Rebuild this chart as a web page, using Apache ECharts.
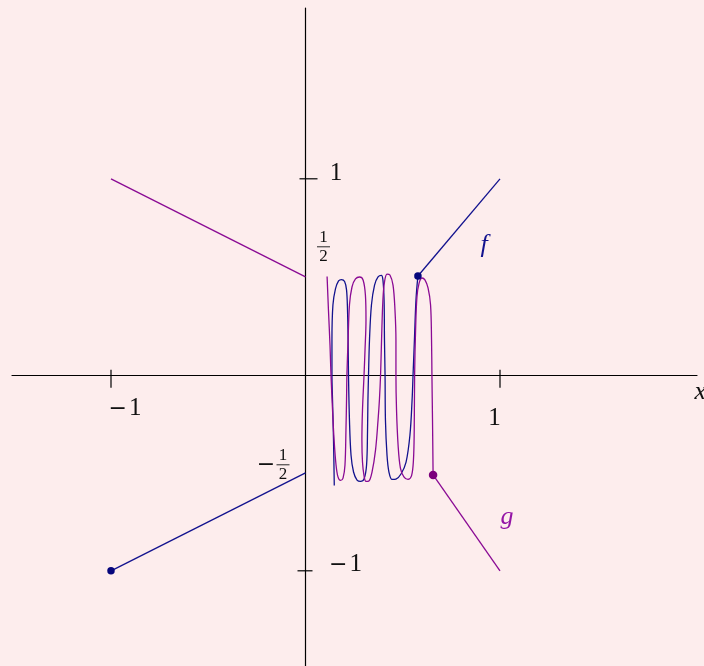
<!DOCTYPE html>
<html>
<head>
<meta charset="utf-8">
<script src="https://cdn.jsdelivr.net/npm/echarts@6/dist/echarts.min.js"></script>
<style>
  html, body { margin: 0; padding: 0; background: #fdeded; }
  #chart { width: 704px; height: 666px; }
</style>
</head>
<body>
<div id="chart"></div>
<script>
// Tick values and their labels
const xTicks = [-1, 1];
const xTickLabels = ['−1', '1'];
const yTicks = [1, -1];
const yTickLabels = ['1', '−1'];
const halfTicks = [0.5, -0.5];
const halfTickLabels = ['1/2', '−1/2'];

// f: straight piece left of the axis, the oscillating piece, and the tail to (1, 1)
const fLeft = [[-1, -1], [0, -0.5]];
const fWiggle = [
  [0.148, -0.565], [0.144, -0.333], [0.139, -0.129], [0.136, 0.0], [0.136, 0.178],
  [0.141, 0.356], [0.154, 0.438], [0.170, 0.479], [0.185, 0.486], [0.201, 0.476],
  [0.211, 0.433], [0.216, 0.331], [0.219, 0.178], [0.221, 0.0], [0.226, -0.231],
  [0.234, -0.409], [0.247, -0.496], [0.265, -0.537], [0.283, -0.544], [0.301, -0.532],
  [0.314, -0.460], [0.319, -0.282], [0.321, -0.129], [0.324, 0.0], [0.329, 0.178],
  [0.339, 0.356], [0.355, 0.458], [0.373, 0.499], [0.390, 0.507], [0.398, 0.484],
  [0.404, 0.382], [0.406, 0.178], [0.409, 0.0], [0.411, -0.231], [0.419, -0.409],
  [0.429, -0.496], [0.445, -0.534], [0.465, -0.532], [0.491, -0.506], [0.517, -0.445],
  [0.537, -0.307], [0.548, -0.129], [0.553, 0.0], [0.560, 0.178], [0.568, 0.382],
  [0.578, 0.504]
];
const fRight = [[0.578, 0.504], [1, 1]];
const fDots = [[-1, -1], [0.578, 0.504]];

// g: straight piece left of the axis, the oscillating piece, and the tail to (1, -1)
const gLeft = [[-1, 1], [0, 0.5]];
const gWiggle = [
  [0.111, 0.502], [0.118, 0.331], [0.126, 0.152], [0.131, 0.0], [0.139, -0.180],
  [0.147, -0.333], [0.157, -0.460], [0.167, -0.521], [0.180, -0.539], [0.193, -0.527],
  [0.203, -0.460], [0.208, -0.282], [0.211, -0.129], [0.213, 0.0], [0.219, 0.178],
  [0.226, 0.356], [0.239, 0.448], [0.257, 0.489], [0.278, 0.499], [0.296, 0.484],
  [0.308, 0.407], [0.311, 0.280], [0.306, 0.127], [0.301, 0.0], [0.293, -0.180],
  [0.290, -0.333], [0.293, -0.445], [0.301, -0.516], [0.311, -0.544], [0.326, -0.542],
  [0.342, -0.496], [0.360, -0.384], [0.373, -0.231], [0.380, -0.129], [0.386, 0.0],
  [0.391, 0.178], [0.398, 0.382], [0.406, 0.473], [0.419, 0.514], [0.434, 0.509],
  [0.450, 0.458], [0.460, 0.331], [0.465, 0.178], [0.465, 0.0], [0.468, -0.180],
  [0.476, -0.358], [0.488, -0.476], [0.506, -0.521], [0.527, -0.534], [0.545, -0.516],
  [0.555, -0.435], [0.559, -0.282], [0.561, 0.0], [0.566, 0.229], [0.573, 0.397],
  [0.584, 0.468], [0.599, 0.494], [0.614, 0.484], [0.630, 0.443], [0.643, 0.356],
  [0.648, 0.178], [0.650, 0.0], [0.653, -0.231], [0.656, -0.511]
];
const gRight = [[0.656, -0.511], [1, -1]];
const gDots = [[0.656, -0.511]];

// Visible window of the plane
const X_MIN = -1.50900, X_MAX = 2.01285;
const Y_MIN = -1.48571, Y_MAX = 1.87143;

const F_COLOR = '#12128e';
const G_COLOR = '#8a0a94';
const NUM_FONT = '25px "Liberation Serif", "DejaVu Serif", serif';
const MINUS_FONT = '22px "DejaVu Sans", sans-serif';
const FRAC_FONT = '17px "Liberation Serif", "DejaVu Serif", serif';
const ITALIC_FONT = 'italic 26px "Liberation Serif", "DejaVu Serif", serif';

const chart = echarts.init(document.getElementById('chart'), null, { renderer: 'canvas' });

function curve(name, data, color, smooth) {
  return {
    name, type: 'line', data, smooth: smooth || false, showSymbol: false,
    lineStyle: { color, width: 1.3 }, silent: true, z: 3
  };
}

function text(x, y, str, font, fill, align) {
  return {
    type: 'text', x, y,
    style: { text: str, font, fill, align: align || 'center', verticalAlign: 'middle' }
  };
}

// A number label; a leading minus is set as a wider glyph in front of the digits
function numberLabel(cx, cy, str) {
  if (str.charAt(0) !== '−') return text(cx, cy, str, NUM_FONT, '#111');
  return {
    type: 'group',
    children: [
      text(cx + 1, cy, str.slice(1), NUM_FONT, '#111', 'left'),
      text(cx - 1, cy, '−', MINUS_FONT, '#111', 'right')
    ]
  };
}

// Tick marks sit asymmetrically across the axes
const xTickSpan = [-5, 13];
const yTickSpan = { '1': [-6, 12], '-1': [-8, 7] };

// Label anchor offsets (pixels) from the point on the axis
const xLabelOffset = { '-1': [17, 34], '1': [-5.5, 44] };
const yLabelOffset = { '1': [30.5, -5.5], '-1': [43, -6] };
const halfLabelOffset = { '0.5': [18, -30], '-0.5': [-22.5, -8] };

const option = {
  backgroundColor: '#fdeded',
  animation: false,
  grid: { left: 12, right: 7, top: 8, bottom: 0, containLabel: false },
  xAxis: {
    type: 'value', min: X_MIN, max: X_MAX,
    axisLine: { onZero: true, lineStyle: { color: '#000', width: 1.2 } },
    axisTick: { show: false }, axisLabel: { show: false }, splitLine: { show: false }
  },
  yAxis: {
    type: 'value', min: Y_MIN, max: Y_MAX,
    axisLine: { onZero: true, lineStyle: { color: '#000', width: 1.2 } },
    axisTick: { show: false }, axisLabel: { show: false }, splitLine: { show: false }
  },
  series: [
    curve('fLeft', fLeft, F_COLOR),
    curve('fWiggle', fWiggle, F_COLOR, 0.35),
    curve('fRight', fRight, F_COLOR),
    curve('gLeft', gLeft, G_COLOR),
    curve('gWiggle', gWiggle, G_COLOR, 0.35),
    curve('gRight', gRight, G_COLOR),
    {
      name: 'fDots', type: 'scatter', data: fDots, symbolSize: 7.5,
      itemStyle: { color: '#06067c', opacity: 1 }, z: 5, silent: true
    },
    {
      name: 'gDots', type: 'scatter', data: gDots, symbolSize: 8.5,
      itemStyle: { color: '#7c007c', opacity: 1 }, z: 5, silent: true
    },
    {
      // tick marks on both axes
      name: 'ticks', type: 'custom', clip: false, silent: true, z: 4,
      data: xTicks.map(v => [v, 0, 0]).concat(yTicks.map(v => [0, v, 1])),
      renderItem(params, api) {
        const p = api.coord([api.value(0), api.value(1)]);
        const style = { stroke: '#000', lineWidth: 1.2 };
        if (api.value(2) === 0) {
          return { type: 'line', shape: { x1: p[0], y1: p[1] + xTickSpan[0], x2: p[0], y2: p[1] + xTickSpan[1] }, style };
        }
        const s = yTickSpan[String(api.value(1))];
        return { type: 'line', shape: { x1: p[0] + s[0], y1: p[1], x2: p[0] + s[1], y2: p[1] }, style };
      }
    },
    {
      // tick labels
      name: 'tickLabels', type: 'custom', clip: false, silent: true, z: 4,
      data: xTicks.map((v, i) => [v, 0, 0, i])
        .concat(yTicks.map((v, i) => [0, v, 1, i]))
        .concat(halfTicks.map((v, i) => [0, v, 2, i])),
      renderItem(params, api) {
        const kind = api.value(2), idx = api.value(3);
        const p = api.coord([api.value(0), api.value(1)]);
        if (kind === 0) {
          const o = xLabelOffset[String(api.value(0))];
          return numberLabel(p[0] + o[0], p[1] + o[1], xTickLabels[idx]);
        }
        if (kind === 1) {
          const o = yLabelOffset[String(api.value(1))];
          return numberLabel(p[0] + o[0], p[1] + o[1], yTickLabels[idx]);
        }
        const o = halfLabelOffset[String(api.value(1))];
        const cx = p[0] + o[0], cy = p[1] + o[1];
        const label = halfTickLabels[idx];
        const neg = label.charAt(0) === '−';
        const parts = label.replace('−', '').split('/');
        const children = [
          text(cx, cy - 9.5, parts[0], FRAC_FONT, '#111'),
          { type: 'line', shape: { x1: cx - 6.5, y1: cy, x2: cx + 6.5, y2: cy }, style: { stroke: '#111', lineWidth: 0.9 } },
          text(cx, cy + 9.5, parts[1], FRAC_FONT, '#111')
        ];
        if (neg) children.push(text(cx - 17, cy, '−', MINUS_FONT, '#111'));
        return { type: 'group', children };
      }
    },
    {
      // curve names and the axis name
      name: 'names', type: 'custom', clip: false, silent: true, z: 4,
      data: [[0.918, 0.662, 0], [1.036, -0.726, 1], [2.030, -0.087, 2]],
      renderItem(params, api) {
        const p = api.coord([api.value(0), api.value(1)]);
        const k = api.value(2);
        const str = ['f', 'g', 'x'][k];
        const fill = [F_COLOR, '#9414a6', '#111'][k];
        return text(p[0], p[1], str, ITALIC_FONT, fill);
      }
    }
  ]
};

chart.setOption(option);
</script>
</body>
</html>
